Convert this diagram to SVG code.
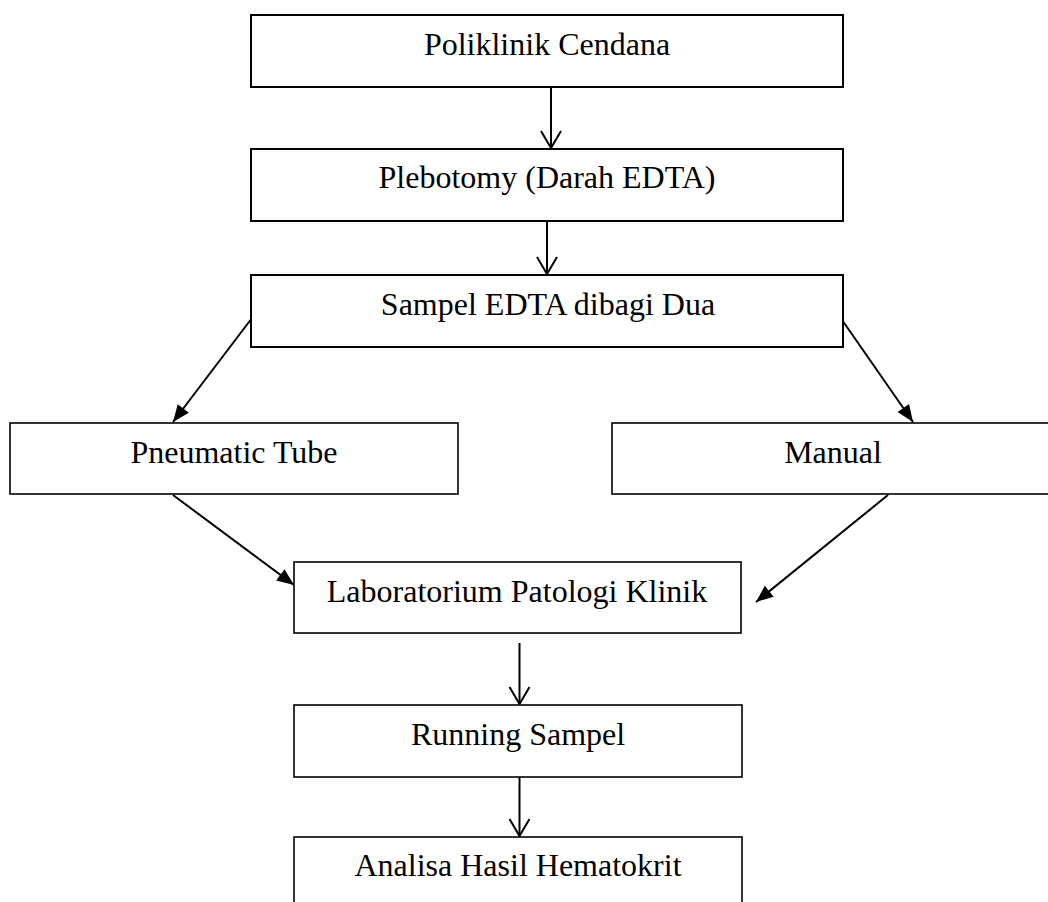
<svg xmlns="http://www.w3.org/2000/svg" width="1048" height="902" viewBox="0 0 1048 902">
<style>
.box{fill:#fff;stroke:#000;stroke-width:1.6}
.boxt{fill:#fff;stroke:#000;stroke-width:2}
.lbl{font-family:"Liberation Serif","Times New Roman",serif;font-size:32px;fill:#000;text-anchor:middle}
.con{fill:none;stroke:#000;stroke-width:2}
</style>
<defs>
<marker id="open" markerUnits="userSpaceOnUse" markerWidth="24" markerHeight="24" viewBox="-20 -12 24 24" refX="0" refY="0" orient="auto">
<path d="M-17,-10 L0,0 L-17,10" fill="none" stroke="#000" stroke-width="2"/>
</marker>
<marker id="fill" markerUnits="userSpaceOnUse" markerWidth="24" markerHeight="24" viewBox="-20 -12 24 24" refX="0" refY="0" orient="auto">
<path d="M0,0 L-17,-7 L-17,7 Z" fill="#000"/>
</marker>
</defs>
<rect width="1048" height="902" fill="#fff"/>
<g id="connectors">
<line class="con" x1="551" y1="87" x2="551" y2="148" marker-end="url(#open)"/>
<line class="con" x1="547" y1="221" x2="547" y2="274" marker-end="url(#open)"/>
<line class="con" x1="252" y1="318" x2="173" y2="422" marker-end="url(#fill)"/>
<line class="con" x1="840" y1="317" x2="913" y2="422" marker-end="url(#fill)"/>
<line class="con" x1="173" y1="495" x2="294" y2="585" marker-end="url(#fill)"/>
<line class="con" x1="888" y1="495" x2="756" y2="602" marker-end="url(#fill)"/>
<line class="con" x1="519.5" y1="643" x2="519.5" y2="704" marker-end="url(#open)"/>
<line class="con" x1="519.5" y1="777" x2="519.5" y2="836" marker-end="url(#open)"/>
</g>
<g id="n1"><rect class="boxt" x="251" y="15" width="592" height="72"/><text class="lbl" x="547" y="55">Poliklinik Cendana</text></g>
<g id="n2"><rect class="boxt" x="251" y="149" width="592" height="72"/><text class="lbl" x="547" y="188">Plebotomy (Darah EDTA)</text></g>
<g id="n3"><rect class="boxt" x="251" y="275" width="592" height="72"/><text class="lbl" x="548" y="315">Sampel EDTA dibagi Dua</text></g>
<g id="n4"><rect class="box" x="10" y="423" width="448" height="71"/><text class="lbl" x="234" y="463">Pneumatic Tube</text></g>
<g id="n5"><rect class="box" x="612" y="423" width="442" height="71"/><text class="lbl" x="833" y="463">Manual</text></g>
<g id="n6"><rect class="box" x="294" y="562" width="447" height="71"/><text class="lbl" x="517" y="602">Laboratorium Patologi Klinik</text></g>
<g id="n7"><rect class="box" x="294" y="705" width="448" height="72"/><text class="lbl" x="518" y="745">Running Sampel</text></g>
<g id="n8"><rect class="box" x="294" y="837" width="448" height="72"/><text class="lbl" x="518" y="876">Analisa Hasil Hematokrit</text></g>
</svg>
